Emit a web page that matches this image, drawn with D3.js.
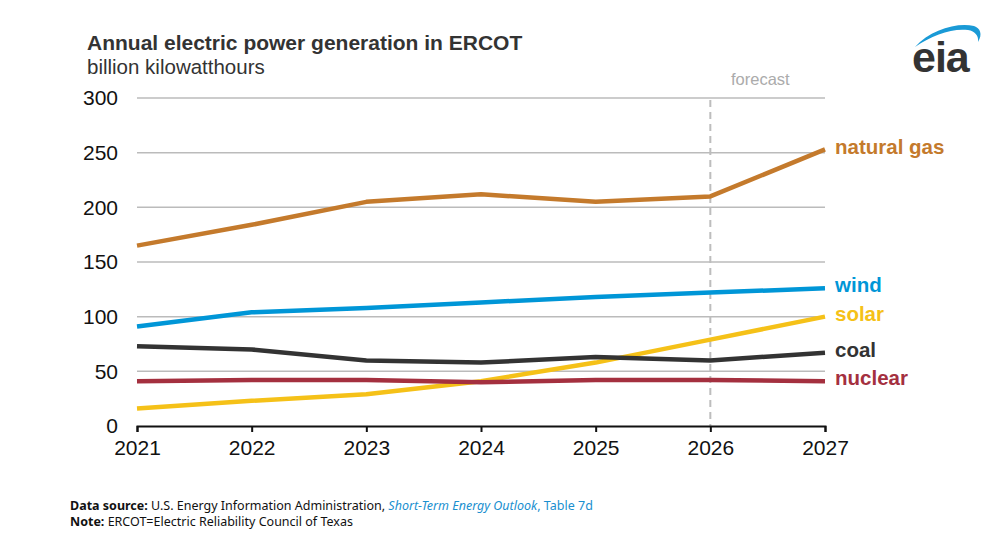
<!DOCTYPE html>
<html>
<head>
<meta charset="utf-8">
<script src="https://cdn.jsdelivr.net/npm/d3@7"></script>
<style>
  body { margin: 0; background: #fff; }
  svg { font-family: "Liberation Sans", Arial, sans-serif; }
</style>
</head>
<body>
<svg id="chart" width="1001" height="538"></svg>
<script>
// data (billion kWh)
const years = [2021, 2022, 2023, 2024, 2025, 2026, 2027];
const naturalGas = [165, 184, 205, 212, 205, 210, 253];
const wind = [91, 104, 108, 113, 118, 122, 126];
const solar = [16, 23, 29, 41, 58, 79, 100];
const coal = [73, 70, 60, 58, 63, 60, 67];
const nuclear = [41, 42, 42, 40, 42, 42, 41];
const yTicks = [0, 50, 100, 150, 200, 250, 300];
const forecastYear = 2026;

const series = [
  { name: 'natural gas', values: naturalGas, color: '#c47a2c' },
  { name: 'wind', values: wind, color: '#0096d7' },
  { name: 'solar', values: solar, color: '#f5c118' },
  { name: 'coal', values: coal, color: '#333333' },
  { name: 'nuclear', values: nuclear, color: '#a4303f' }
];

const svg = d3.select('#chart');
const margin = { top: 98, right: 176, bottom: 112, left: 137 };
const width = 1001 - margin.left - margin.right;
const height = 538 - margin.top - margin.bottom;

const x = d3.scaleLinear().domain([2021, 2027]).range([0, width]);
const y = d3.scaleLinear().domain([0, 300]).range([height, 0]);

// title
svg.append('text')
  .attr('x', 87).attr('y', 50)
  .attr('font-size', 21).attr('font-weight', 'bold').attr('fill', '#333')
  .text('Annual electric power generation in ERCOT');
svg.append('text')
  .attr('x', 87).attr('y', 74)
  .attr('font-size', 20.5).attr('fill', '#333')
  .text('billion kilowatthours');

const g = svg.append('g')
  .attr('transform', `translate(${margin.left},${margin.top})`);

// gridlines
g.selectAll('.grid')
  .data(yTicks.filter(d => d > 0))
  .join('line')
  .attr('class', 'grid')
  .attr('x1', 0).attr('x2', width)
  .attr('y1', d => y(d)).attr('y2', d => y(d))
  .attr('stroke', '#bbbbbb').attr('stroke-width', 1.5);

// y labels
g.selectAll('.ylab')
  .data(yTicks)
  .join('text')
  .attr('class', 'ylab')
  .attr('x', -19).attr('y', d => y(d))
  .attr('dy', '0.35em')
  .attr('text-anchor', 'end')
  .attr('font-size', 21).attr('fill', '#111')
  .text(d => d);

// forecast marker
g.append('line')
  .attr('x1', x(forecastYear)).attr('x2', x(forecastYear))
  .attr('y1', 2).attr('y2', height)
  .attr('stroke', '#bdbdbd').attr('stroke-width', 2)
  .attr('stroke-dasharray', '7,5');
g.append('text')
  .attr('x', x(forecastYear) + 50).attr('y', -13)
  .attr('text-anchor', 'middle')
  .attr('font-size', 16.5).attr('fill', '#ababab')
  .text('forecast');

// x axis
const xAxis = d3.axisBottom(x)
  .tickValues(years)
  .tickFormat(d3.format('d'))
  .tickSize(6)
  .tickPadding(8);
const xAxisG = g.append('g')
  .attr('transform', `translate(0,${height})`)
  .call(xAxis);
xAxisG.select('.domain').attr('stroke', '#111').attr('stroke-width', 2);
xAxisG.selectAll('.tick line').attr('stroke', '#111').attr('stroke-width', 2);
xAxisG.selectAll('.tick text')
  .attr('font-size', 21).attr('fill', '#111')
  .attr('font-family', '"Liberation Sans", Arial, sans-serif');

// lines
const line = d3.line()
  .x((d, i) => x(years[i]))
  .y(d => y(d));

g.selectAll('.series')
  .data(series)
  .join('path')
  .attr('class', 'series')
  .attr('fill', 'none')
  .attr('stroke', d => d.color)
  .attr('stroke-width', 4.5)
  .attr('stroke-linejoin', 'round')
  .attr('d', d => line(d.values));

// end labels
g.selectAll('.endlab')
  .data(series)
  .join('text')
  .attr('class', 'endlab')
  .attr('x', width + 10)
  .attr('y', d => y(d.values[d.values.length - 1]) - 3)
  .attr('dy', '0.35em')
  .attr('font-size', 20.5).attr('font-weight', 'bold')
  .attr('fill', d => d.color)
  .text(d => d.name);

// eia logo
const logo = svg.append('g').attr('transform', 'translate(912,18)');
logo.append('path')
  .attr('d', 'M3,29 C18,12 45,4 62,8 C68,10 71,16 66,24 C67,18 63,13 56,12 C40,10 20,17 3,29 Z')
  .attr('fill', '#1a9ad6');
logo.append('text')
  .attr('x', 0).attr('y', 54)
  .attr('font-size', 43).attr('font-weight', 'bold')
  .attr('fill', '#333')
  .attr('letter-spacing', -1)
  .text('eia');

// footer
const foot = svg.append('text')
  .attr('x', 70).attr('y', 510)
  .attr('font-size', 12.5).attr('fill', '#111')
  .attr('font-family', '"Noto Sans", sans-serif');
foot.append('tspan').attr('font-weight', 'bold').text('Data source:');
foot.append('tspan').text(' U.S. Energy Information Administration, ');
foot.append('tspan').attr('fill', '#1a8fcf').attr('font-style', 'italic').text('Short-Term Energy Outlook');
foot.append('tspan').attr('fill', '#1a8fcf').text(', Table 7d');

const note = svg.append('text')
  .attr('x', 70).attr('y', 526)
  .attr('font-size', 12.5).attr('fill', '#111')
  .attr('font-family', '"Noto Sans", sans-serif');
note.append('tspan').attr('font-weight', 'bold').text('Note:');
note.append('tspan').text(' ERCOT=Electric Reliability Council of Texas');
</script>
</body>
</html>
